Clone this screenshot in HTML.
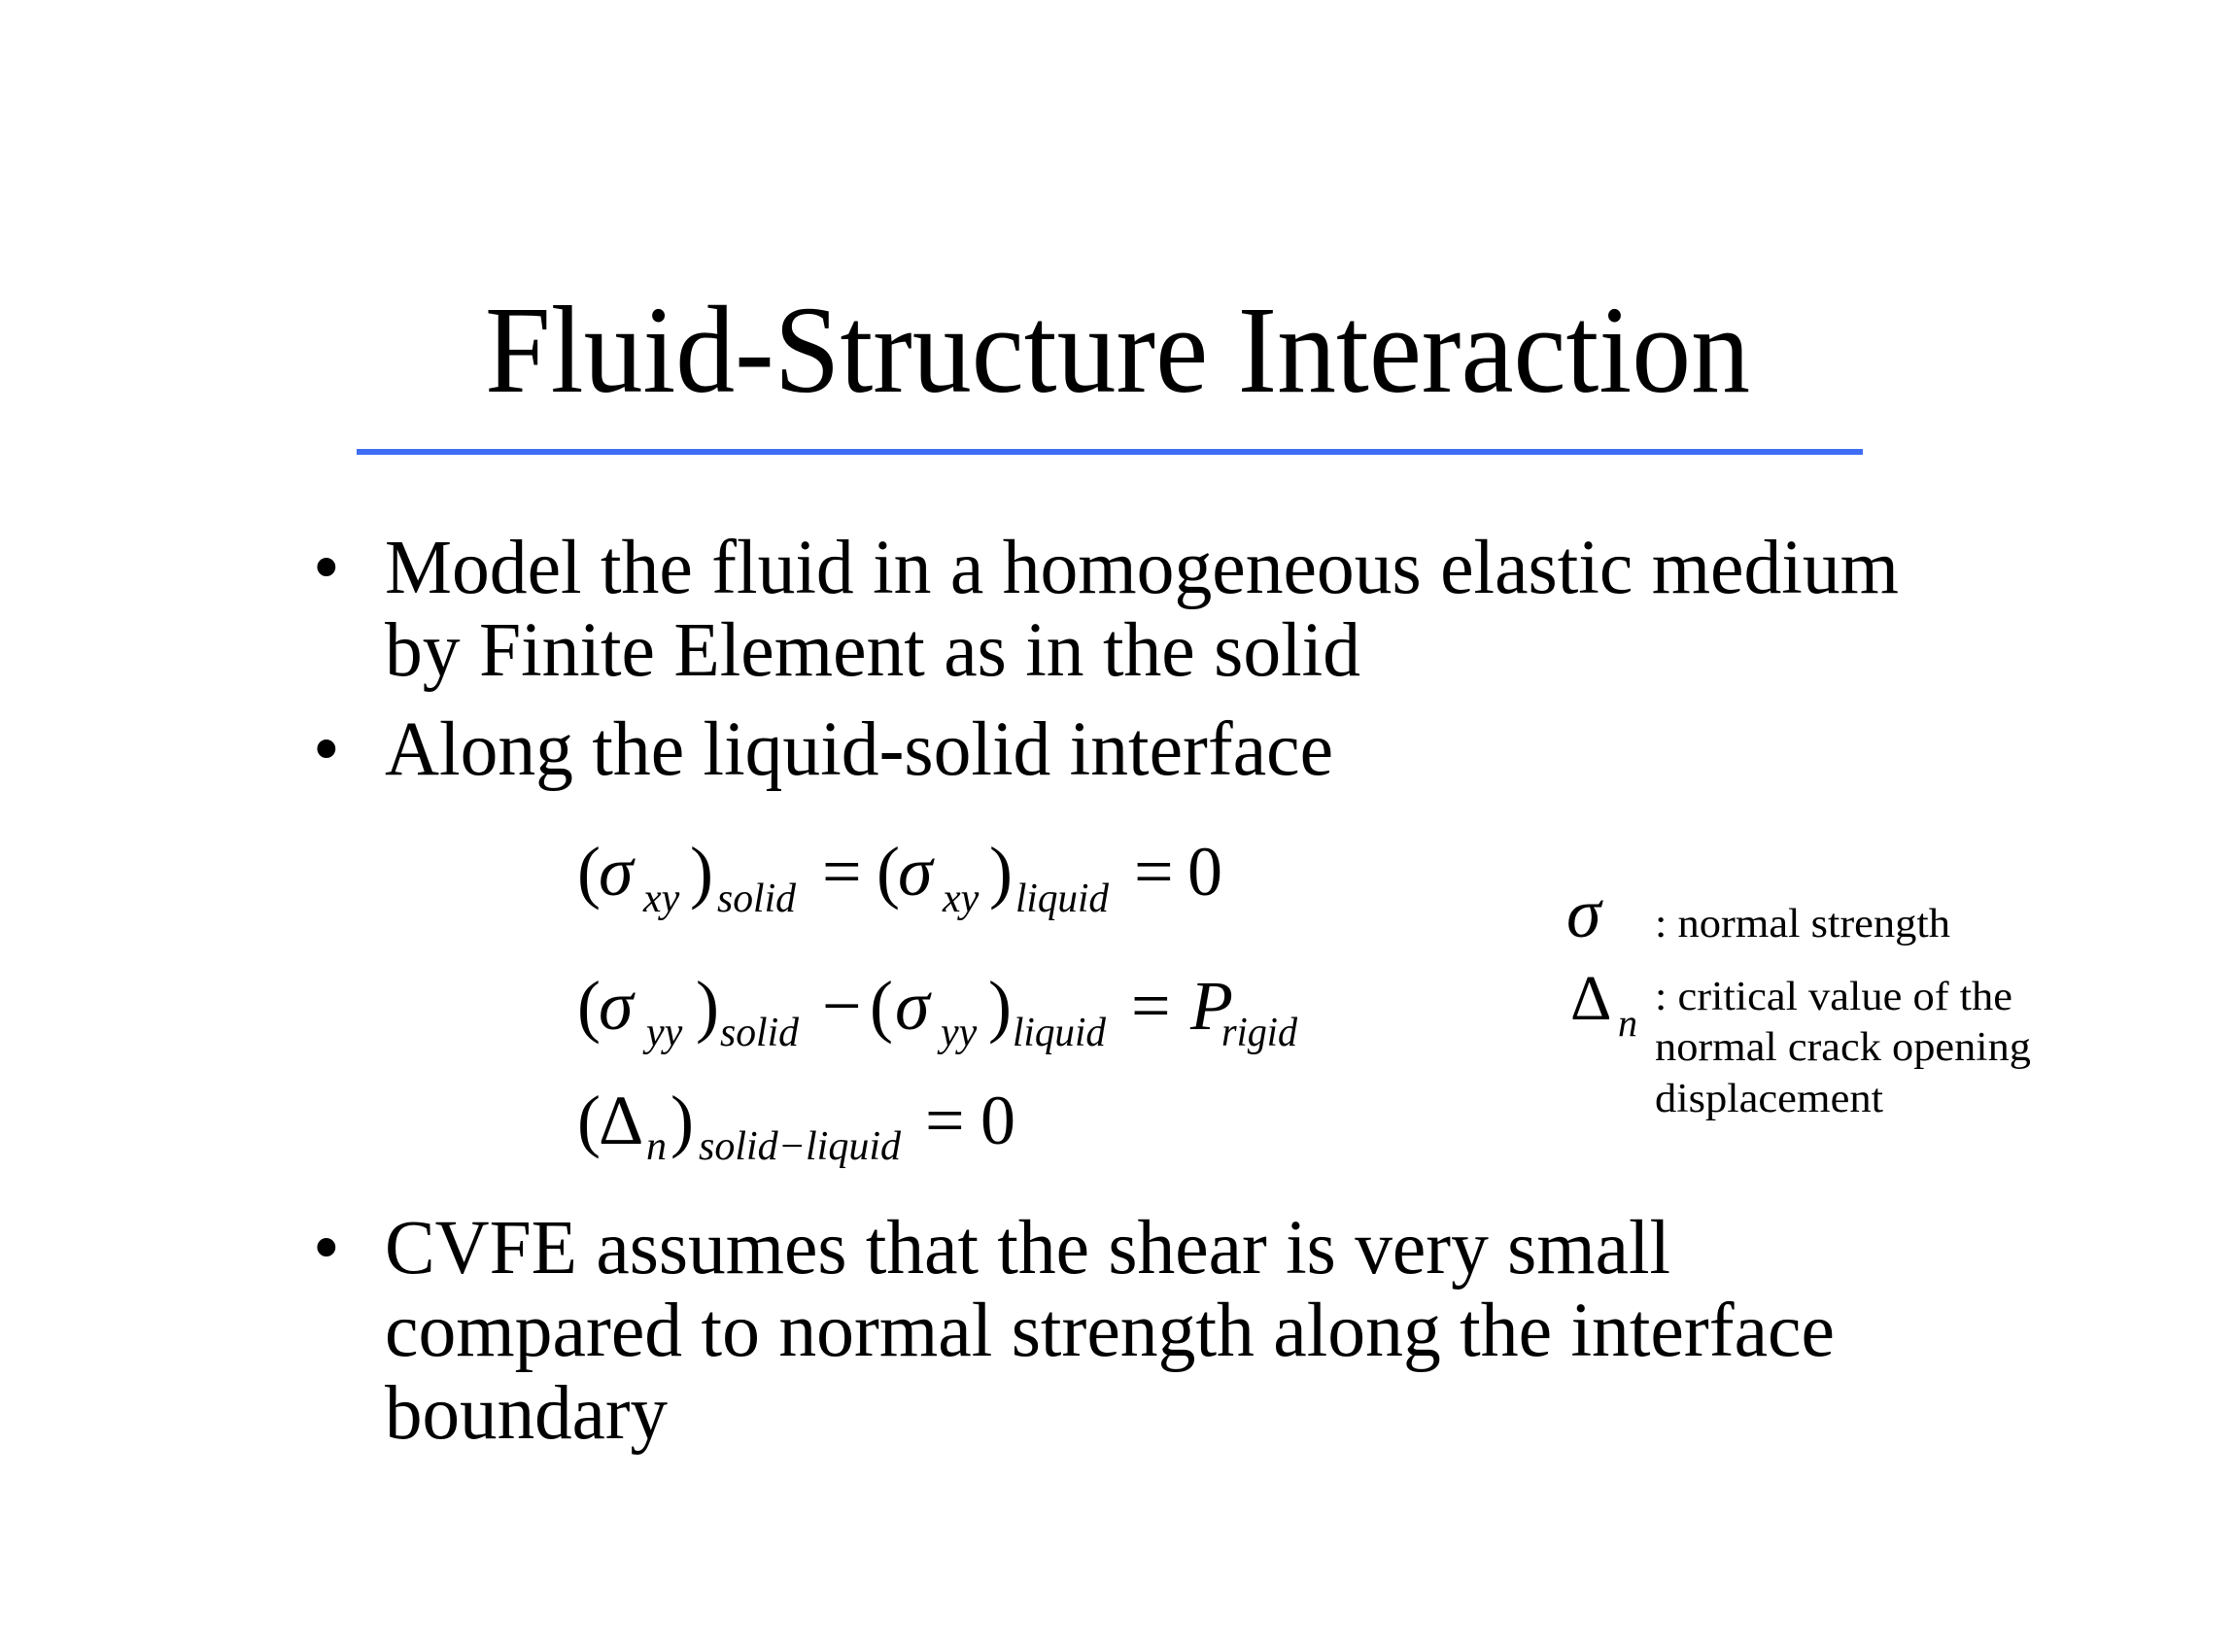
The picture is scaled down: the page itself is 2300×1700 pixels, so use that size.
<!DOCTYPE html>
<html><head><meta charset="utf-8"><style>
html,body{margin:0;padding:0;background:#fff;}
svg{display:block;}
text{font-family:"Liberation Serif",serif;fill:#000;}
.i{font-style:italic;}
</style></head><body>
<svg width="2300" height="1700" viewBox="0 0 2300 1700" xmlns="http://www.w3.org/2000/svg">
<rect width="2300" height="1700" fill="#fff"/>
<text x="499" y="403" font-size="128" textLength="1302" lengthAdjust="spacingAndGlyphs">Fluid-Structure Interaction</text>
<rect x="367" y="462" width="1550" height="6" fill="#3e6ef5"/>

<g font-size="79">
<text x="322" y="610">•</text>
<text x="396" y="610" textLength="1558" lengthAdjust="spacingAndGlyphs">Model the fluid in a homogeneous elastic medium</text>
<text x="396" y="695" textLength="1004" lengthAdjust="spacingAndGlyphs">by Finite Element as in the solid</text>
<text x="322" y="797">•</text>
<text x="396" y="797" textLength="976" lengthAdjust="spacingAndGlyphs">Along the liquid-solid interface</text>
<text x="322" y="1310">•</text>
<text x="396" y="1310" textLength="1323" lengthAdjust="spacingAndGlyphs">CVFE assumes that the shear is very small</text>
<text x="396" y="1395" textLength="1492" lengthAdjust="spacingAndGlyphs">compared to normal strength along the interface</text>
<text x="396" y="1480" textLength="291" lengthAdjust="spacingAndGlyphs">boundary</text>
</g>

<!-- Eq1 -->
<g font-size="72">
<text x="594" y="921">(</text><text class="i" x="616" y="921">σ</text><text x="710" y="921">)</text>
<text x="846" y="921">=</text>
<text x="902" y="921">(</text><text class="i" x="924" y="921">σ</text><text x="1018" y="921">)</text>
<text x="1167" y="921">=</text><text x="1222" y="921">0</text>
</g>
<g font-size="42">
<text class="i" x="662" y="938">xy</text><text class="i" x="738" y="938" textLength="81" lengthAdjust="spacingAndGlyphs">solid</text>
<text class="i" x="970" y="938">xy</text><text class="i" x="1045" y="938" textLength="96" lengthAdjust="spacingAndGlyphs">liquid</text>
</g>

<!-- Eq2 -->
<g font-size="72">
<text x="594" y="1059">(</text><text class="i" x="616" y="1059">σ</text><text x="716" y="1059">)</text>
<text x="846" y="1059">−</text>
<text x="895" y="1059">(</text><text class="i" x="921" y="1059">σ</text><text x="1017" y="1059">)</text>
<text x="1164" y="1059">=</text><text class="i" x="1225" y="1059">P</text>
</g>
<g font-size="42">
<text class="i" x="665" y="1076">yy</text><text class="i" x="741" y="1076" textLength="81" lengthAdjust="spacingAndGlyphs">solid</text>
<text class="i" x="968" y="1076">yy</text><text class="i" x="1042" y="1076" textLength="96" lengthAdjust="spacingAndGlyphs">liquid</text>
<text class="i" x="1257" y="1076" textLength="78" lengthAdjust="spacingAndGlyphs">rigid</text>
</g>

<!-- Eq3 -->
<g font-size="72">
<text x="594" y="1177">(</text><text x="616" y="1177">Δ</text><text x="690" y="1177">)</text>
<text x="952" y="1177">=</text><text x="1009" y="1177">0</text>
</g>
<g font-size="42">
<text class="i" x="665" y="1193">n</text>
<text class="i" x="719" y="1193" textLength="208" lengthAdjust="spacingAndGlyphs">solid−liquid</text>
</g>

<!-- Legend -->
<text class="i" x="1612" y="964" font-size="72">σ</text>
<text x="1616" y="1049" font-size="66">Δ</text>
<text class="i" x="1665" y="1066" font-size="40">n</text>
<g font-size="42">
<text x="1703" y="964" textLength="304" lengthAdjust="spacingAndGlyphs">: normal strength</text>
<text x="1703" y="1039" textLength="368" lengthAdjust="spacingAndGlyphs">: critical value of the</text>
<text x="1703" y="1091" textLength="387" lengthAdjust="spacingAndGlyphs">normal crack opening</text>
<text x="1703" y="1144" textLength="235" lengthAdjust="spacingAndGlyphs">displacement</text>
</g>
</svg>
</body></html>
